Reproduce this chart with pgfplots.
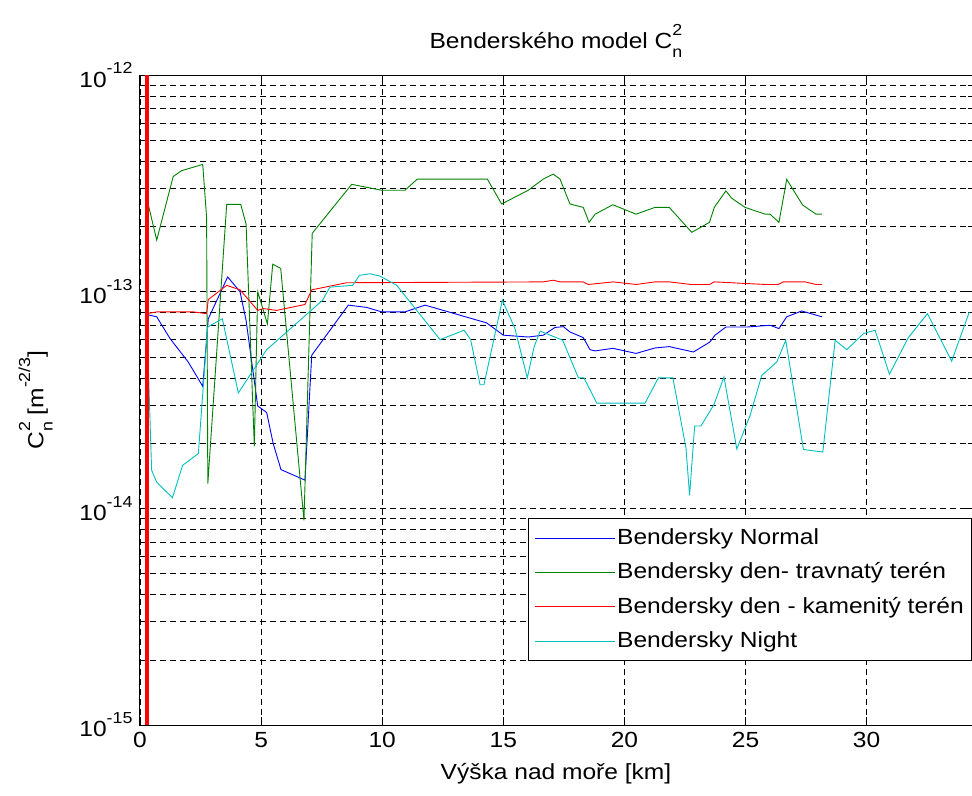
\documentclass[border=0pt]{standalone}
\usepackage{fontspec}
\setmainfont{Liberation Sans}[FakeStretch=1.12]
\usepackage{pgfplots}
\pgfplotsset{compat=1.18}
\definecolor{mgreen}{rgb}{0,0.5,0}
\definecolor{mcyan}{rgb}{0,0.75,0.75}
\newcommand{\sm}[1]{{\fontsize{16}{18}\selectfont #1}}
\newcommand{\Cn}{C\rlap{\raisebox{0.6em}{\sm{2}}}\raisebox{-0.42em}{\sm{n}}}
\newcommand{\tenp}[1]{10\raisebox{0.6em}{\sm{#1}}}
\begin{document}
\fontsize{22}{26}\selectfont
\begin{tikzpicture}
\begin{axis}[
  name=ax,
  width=832bp, height=650bp, scale only axis,
  ymode=log, log basis y=10,
  xmin=0, xmax=34.35, ymin=1e-15, ymax=1e-12,
  xtick={0,5,10,15,20,25,30},
  ytick={1e-15,1e-14,1e-13,1e-12},
  minor ytick={2e-15,3e-15,4e-15,5e-15,6e-15,7e-15,8e-15,9e-15,
               2e-14,3e-14,4e-14,5e-14,6e-14,7e-14,8e-14,9e-14,
               2e-13,3e-13,4e-13,5e-13,6e-13,7e-13,8e-13,9e-13},
  yticklabels={\tenp{-15},\tenp{-14},\tenp{-13},\tenp{-12}},
  /pgf/number format/assume math mode=true,
  minor x tick num=0,
  grid=both,
  major grid style={black, dash pattern=on 6bp off 4bp, line width=0.6bp},
  minor grid style={black, dash pattern=on 6bp off 4bp, line width=0.6bp},
  tick align=inside,
  major tick length=8bp, minor tick length=4bp,
  every tick/.style={black, line width=0.6bp},
  axis line style={black, line width=1bp},
  title={Benderského model \Cn},
  title style={yshift=4bp},
  xlabel={Výška nad moře [km]},
  ylabel={\Cn\ [m\raisebox{0.6em}{\sm{-2/3}}]},
  ylabel shift=12bp,
  legend style={at={(1,0.318)}, anchor=north east, draw=black, line width=0.6bp, fill=white,
    cells={anchor=west}, row sep=11bp, inner xsep=6bp, inner ysep=8bp},
  legend image code/.code={\draw[#1, line width=1bp] (0bp,0bp) -- (80bp,0bp);},
]
\addplot[blue, line width=0.9bp] coordinates {
(0.28,7.85e-14) (0.69,7.66e-14) (1.24,6.08e-14) (1.99,4.74e-14) (2.59,3.66e-14)
(2.82,7.5e-14) (3.62,1.17e-13) (4.13,1.0e-13) (4.38,7.38e-14) (4.86,2.97e-14)
(5.23,2.77e-14) (5.50,1.99e-14) (5.82,1.51e-14) (6.81,1.35e-14) (7.09,5.09e-14)
(8.60,8.67e-14) (9.36,8.46e-14) (9.98,8.07e-14) (10.94,8.07e-14) (11.77,8.67e-14)
(14.31,7.18e-14) (15.0,6.3e-14) (16.03,6.18e-14) (16.65,6.3e-14) (17.13,6.84e-14)
(17.48,6.9e-14) (17.75,6.52e-14) (18.30,6.14e-14) (18.58,5.4e-14) (18.79,5.33e-14)
(19.52,5.48e-14) (20.48,5.19e-14) (21.26,5.5e-14) (21.85,5.58e-14) (22.85,5.27e-14)
(23.53,5.86e-14) (23.74,6.3e-14) (24.19,6.87e-14) (25.05,6.87e-14) (26.01,7.0e-14)
(26.38,6.76e-14) (26.70,7.66e-14) (27.32,8.15e-14) (28.15,7.66e-14)
};
\addlegendentry{Bendersky Normal}
\addplot[mgreen, line width=0.9bp] coordinates {
(0.28,2.7e-13) (0.69,1.73e-13) (1.37,3.4e-13) (1.72,3.62e-13) (2.59,3.87e-13)
(2.75,2.2e-13) (2.80,1.3e-14) (3.58,2.53e-13) (4.16,2.53e-13) (4.38,2.05e-13)
(4.72,1.94e-14) (4.86,1.0e-13) (5.26,7.1e-14) (5.48,1.34e-13) (5.81,1.28e-13)
(6.77,8.8e-15) (7.11,1.86e-13) (8.74,3.13e-13) (9.98,2.94e-13) (10.94,2.94e-13)
(11.45,3.31e-13) (14.34,3.31e-13) (14.93,2.54e-13) (16.03,2.94e-13) (16.65,3.31e-13)
(17.06,3.49e-13) (17.34,3.31e-13) (17.75,2.54e-13) (18.30,2.45e-13) (18.54,2.09e-13)
(18.79,2.28e-13) (19.52,2.52e-13) (20.48,2.28e-13) (21.26,2.45e-13) (21.85,2.45e-13)
(22.78,1.88e-13) (23.51,2.09e-13) (23.71,2.45e-13) (24.19,2.92e-13) (24.43,2.7e-13)
(24.98,2.45e-13) (25.81,2.28e-13) (26.01,2.28e-13) (26.38,2.09e-13) (26.70,3.3e-13)
(27.36,2.51e-13) (27.91,2.28e-13) (28.15,2.28e-13)
};
\addlegendentry{Bendersky den- travnatý terén}
\addplot[red, line width=0.9bp] coordinates {
(0.28,7.92e-14) (0.69,8.07e-14) (2.20,8.07e-14) (2.75,7.92e-14) (2.82,9.2e-14)
(3.58,1.07e-13) (4.13,1.02e-13) (4.86,8.2e-14) (5.09,8.36e-14) (5.64,8.2e-14)
(6.81,8.73e-14) (7.09,1.02e-13) (8.53,1.10e-13) (16.65,1.11e-13) (17.06,1.13e-13)
(17.34,1.11e-13) (18.30,1.11e-13) (18.51,1.08e-13) (19.54,1.11e-13) (20.48,1.08e-13)
(21.26,1.11e-13) (21.85,1.11e-13) (22.75,1.08e-13) (23.51,1.08e-13) (23.71,1.11e-13)
(25.81,1.08e-13) (26.35,1.08e-13) (26.56,1.11e-13) (27.46,1.11e-13) (27.91,1.08e-13)
(28.15,1.08e-13)
};
\addlegendentry{Bendersky den - kamenitý terén}
\addplot[mcyan, line width=0.9bp] coordinates {
(0.28,7.5e-14) (0.48,1.5e-14) (0.69,1.32e-14) (1.34,1.12e-14) (1.76,1.58e-14)
(2.41,1.79e-14) (2.79,6.87e-14) (3.40,7.5e-14) (4.06,3.41e-14) (5.23,5.4e-14)
(7.54,9.14e-14) (7.84,1.05e-13) (8.78,1.07e-13) (9.06,1.19e-13) (9.50,1.21e-13)
(9.91,1.18e-13) (10.60,1.07e-13) (12.39,6.01e-14) (13.38,6.64e-14) (13.65,6.01e-14)
(14.04,3.72e-14) (14.20,3.72e-14) (14.96,9.14e-14) (15.48,6.76e-14) (15.99,4.0e-14)
(16.27,5.56e-14) (16.52,6.58e-14) (17.45,5.97e-14) (18.10,4.0e-14) (18.33,4.0e-14)
(18.86,3.06e-14) (20.85,3.06e-14) (21.40,4.0e-14) (22.00,4.0e-14) (22.54,1.9e-14)
(22.69,1.15e-14) (22.90,2.4e-14) (23.16,2.4e-14) (23.70,3.02e-14) (24.11,4.04e-14)
(24.64,1.88e-14) (25.19,2.69e-14) (25.67,4.11e-14) (26.29,4.74e-14) (26.66,5.97e-14)
(27.39,1.87e-14) (28.19,1.82e-14) (28.70,5.97e-14) (29.18,5.4e-14) (29.87,6.41e-14)
(30.35,6.64e-14) (30.94,4.16e-14) (31.72,6.14e-14) (32.51,7.92e-14) (33.51,4.78e-14)
(34.24,8.07e-14)
};
\addlegendentry{Bendersky Night}
\addplot[red, line width=3.5bp, forget plot] coordinates {(0.28,1e-15) (0.28,1e-12)};
\end{axis}
\pgfresetboundingbox
\path ([xshift=-140bp,yshift=-71bp]ax.south west) rectangle ([yshift=75bp]ax.north east);
\end{tikzpicture}
\end{document}
